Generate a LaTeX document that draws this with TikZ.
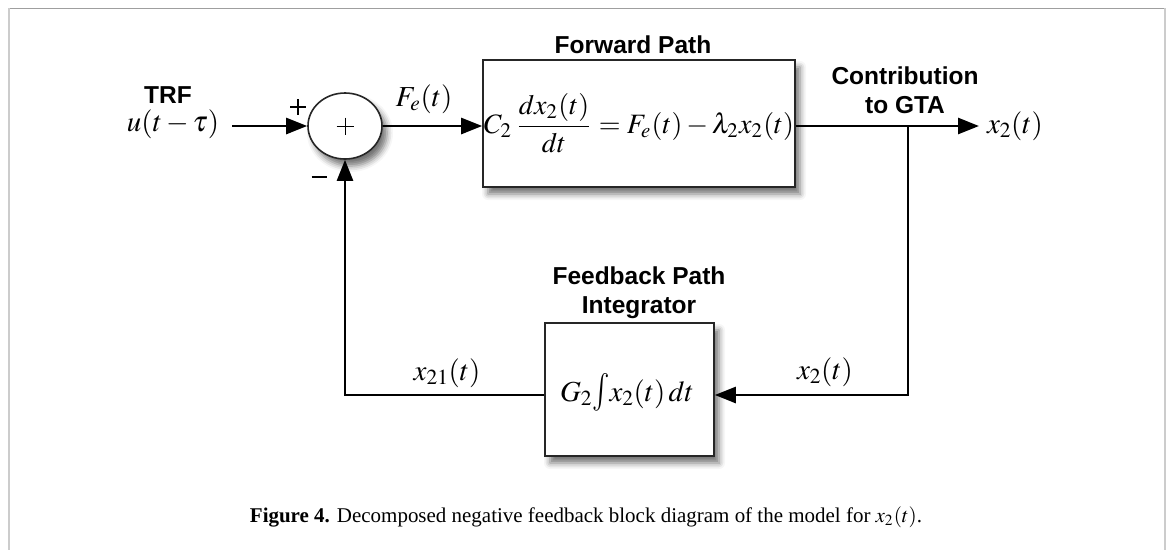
\documentclass[tikz,border=0pt]{standalone}
\usepackage{mathptmx}
\usepackage[no-math]{fontspec}
\setmainfont{Liberation Serif}
\newfontfamily\labelfont{Liberation Sans}
\usetikzlibrary{arrows.meta,shapes.geometric,shadows.blur}
\newcommand{\tallint}{\mathop{\scalebox{1}[1.3]{$\int$}}\nolimits}
\begin{document}
\begin{tikzpicture}[x=1pt,y=-1pt,
  shade/.style={blur shadow={shadow xshift=5pt,shadow yshift=-7pt,shadow blur radius=6pt,shadow opacity=55}},
  blk/.style={draw=black!85,line width=1.6pt,fill=white,shade,inner sep=0pt},
  wire/.style={line width=2.6pt},
  arr/.style={wire,-{Triangle[length=21pt,width=16pt]}},
  hd/.style={font=\labelfont\bfseries\fontsize{24.5}{29}\selectfont,align=center,inner sep=0pt},
  mth/.style={font=\fontsize{29}{33}\selectfont,inner sep=0pt}]
\useasboundingbox (0,0) rectangle (1171,550);

% frame around the figure
\draw[color=gray!75,line width=1.5pt] (8,8.5) -- (1165.5,8.5);
\draw[color=gray!40,line width=2pt] (8.5,8) -- (8.5,550);
\draw[color=gray!40,line width=2pt] (1165,8) -- (1165,550);

% blocks
\node[blk,ellipse,minimum width=74pt,minimum height=66pt] (sum) at (345,126) {};
\node[blk,minimum width=312pt,minimum height=127pt] (fwd) at (639,123.5)
  {\resizebox{310pt}{!}{$\displaystyle C_2\,\frac{dx_2(t)}{dt}=F_e(t)-\lambda_2x_2(t)$}};
\node[blk,minimum width=169pt,minimum height=133pt] (fb) at (629.5,389.5) {};
\node[mth] (int) at (627,392) {$G_2\!\tallint\! x_2(t)\,dt$};

% plus sign inside the summing junction
\draw[line width=1pt] (sum.center) +(-8.5,0) -- +(8.5,0) (sum.center) +(0,-8.5) -- +(0,8.5);
% input signs
\coordinate (plus) at (298,107);
\coordinate (minus) at (319,177);
\draw[line width=1.6pt] (plus) +(-8,0) -- +(8,0) (plus) +(0,-8) -- +(0,8);
\draw[line width=2.8pt] (minus) +(-7.5,0) -- +(7.5,0);

% connection points
\coordinate (in) at (232,126);
\coordinate (out) at (979,126);
\coordinate (br) at (908,126);
\coordinate (brd) at (908,395);

% signal lines
\draw[arr] (in) -- (sum.west);
\draw[arr] (sum.east) -- (sum.east -| fwd.west);
\draw[arr] (sum.east -| fwd.east) -- (out);
\draw[arr] (br) -- (brd) -- (brd -| fb.east);
\draw[arr] (fb.west |- brd) -- (sum.south |- brd) -- (sum.south);

% labels
\node[hd] (trf) at (168,95) {TRF};
\node[mth] (u) at (173,124) {$u(t-\tau)$};
\node[mth] (fe) at (424,99) {$F_e(t)$};
\node[hd] (fwdt) at (633,45) {Forward Path};
\node[hd] (gta) at (905,90) {Contribution\\to GTA};
\node[mth] (x2o) at (1015,126) {$x_2(t)$};
\node[hd] (fbt) at (639,293) {Feedback Path\\Integrator};
\node[mth] (x2f) at (825,372) {$x_2(t)$};
\node[mth] (x21) at (447,373) {$x_{21}(t)$};

% caption
\node[inner sep=0pt] (cap) at (586,517)
  {\resizebox{672pt}{!}{\textbf{Figure 4.} Decomposed negative feedback block diagram of the model for $x_2(t)$.}};
\end{tikzpicture}
\end{document}
